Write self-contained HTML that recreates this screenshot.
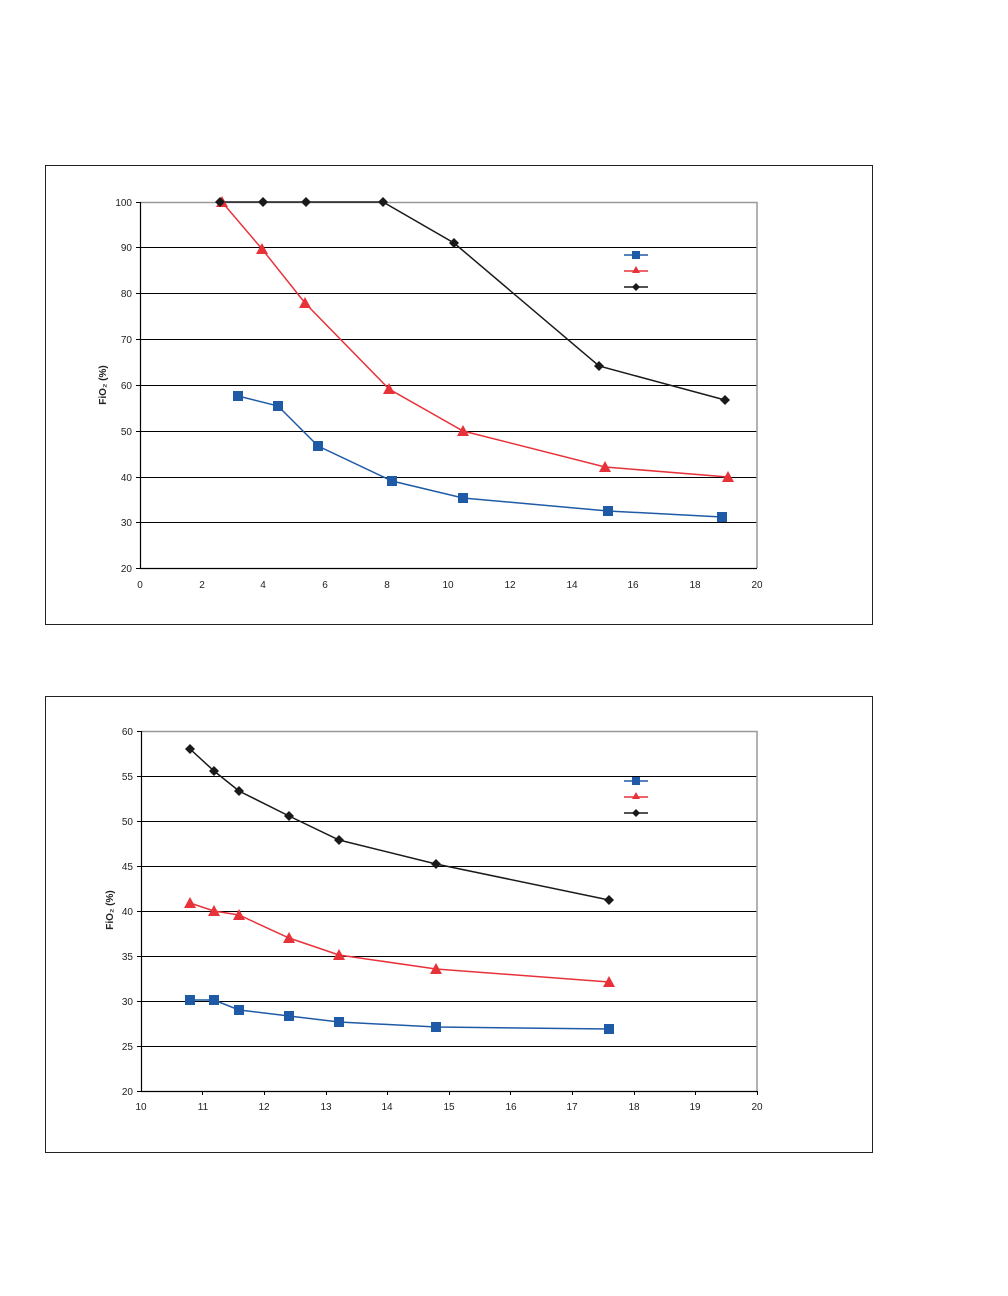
<!DOCTYPE html>
<html><head><meta charset="utf-8"><style>body{margin:0;background:#fff}svg{display:block}text{font-family:"Liberation Sans",sans-serif;font-size:10px;fill:#222}</style></head><body>
<svg width="1008" height="1296" xmlns="http://www.w3.org/2000/svg">
<defs>
<g id="sq"><rect x="-5" y="-5" width="10" height="10" fill="#1f5aa6"/></g>
<g id="tr"><polygon points="0,-6 6,5 -6,5" fill="#e8323a"/></g>
<g id="di"><polygon points="0,-5 5,0 0,5 -5,0" fill="#1a1a1a"/></g>
</defs>
<!-- Chart 1 -->
<rect x="45.5" y="165.5" width="827" height="459" fill="none" stroke="#222" stroke-width="1"/>
<g stroke="#000" stroke-width="1">
<line x1="140" y1="247.5" x2="757" y2="247.5"/><line x1="140" y1="293.5" x2="757" y2="293.5"/><line x1="140" y1="339.5" x2="757" y2="339.5"/><line x1="140" y1="385.5" x2="757" y2="385.5"/><line x1="140" y1="431.5" x2="757" y2="431.5"/><line x1="140" y1="477.5" x2="757" y2="477.5"/><line x1="140" y1="522.5" x2="757" y2="522.5"/>
</g>
<polyline points="140,202.5 757,202.5 757,568" fill="none" stroke="#999" stroke-width="1.5"/>
<polyline points="140.5,202 140.5,568.5 757,568.5" fill="none" stroke="#000" stroke-width="1.2"/>
<g stroke="#000"><line x1="136" y1="202.5" x2="140" y2="202.5"/><line x1="136" y1="247.5" x2="140" y2="247.5"/><line x1="136" y1="293.5" x2="140" y2="293.5"/><line x1="136" y1="339.5" x2="140" y2="339.5"/><line x1="136" y1="385.5" x2="140" y2="385.5"/><line x1="136" y1="431.5" x2="140" y2="431.5"/><line x1="136" y1="477.5" x2="140" y2="477.5"/><line x1="136" y1="522.5" x2="140" y2="522.5"/><line x1="136" y1="568.5" x2="140" y2="568.5"/></g>
<g text-anchor="end"><text x="132" y="206">100</text><text x="132" y="251">90</text><text x="132" y="297">80</text><text x="132" y="343">70</text><text x="132" y="389">60</text><text x="132" y="435">50</text><text x="132" y="481">40</text><text x="132" y="526">30</text><text x="132" y="572">20</text></g>
<g text-anchor="middle"><text x="140" y="588">0</text><text x="202" y="588">2</text><text x="263" y="588">4</text><text x="325" y="588">6</text><text x="387" y="588">8</text><text x="448" y="588">10</text><text x="510" y="588">12</text><text x="572" y="588">14</text><text x="633" y="588">16</text><text x="695" y="588">18</text><text x="757" y="588">20</text></g>
<text transform="translate(106,385) rotate(-90)" text-anchor="middle" style="font-weight:bold">FiO₂ (%)</text>
<polyline points="238,396 278,406 318,446 392,481 463,498 608,511 722,517" fill="none" stroke="#1f5aa6" stroke-width="1.5"/>
<polyline points="222,202 262,249 305,303 389,389 463,431 605,467 728,477" fill="none" stroke="#e8323a" stroke-width="1.5"/>
<polyline points="220,202 263,202 306,202 383,202 454,243 599,366 725,400" fill="none" stroke="#1a1a1a" stroke-width="1.5"/>
<use href="#sq" x="238" y="396"/><use href="#sq" x="278" y="406"/><use href="#sq" x="318" y="446"/><use href="#sq" x="392" y="481"/><use href="#sq" x="463" y="498"/><use href="#sq" x="608" y="511"/><use href="#sq" x="722" y="517"/>
<use href="#tr" x="222" y="202"/><use href="#tr" x="262" y="249"/><use href="#tr" x="305" y="303"/><use href="#tr" x="389" y="389"/><use href="#tr" x="463" y="431"/><use href="#tr" x="605" y="467"/><use href="#tr" x="728" y="477"/>
<use href="#di" x="220" y="202"/><use href="#di" x="263" y="202"/><use href="#di" x="306" y="202"/><use href="#di" x="383" y="202"/><use href="#di" x="454" y="243"/><use href="#di" x="599" y="366"/><use href="#di" x="725" y="400"/>
<line x1="624" y1="255" x2="648" y2="255" stroke="#1f5aa6" stroke-width="1.5"/><rect x="632" y="251" width="8" height="8" fill="#1f5aa6"/>
<line x1="624" y1="271" x2="648" y2="271" stroke="#e8323a" stroke-width="1.5"/><polygon points="636,266 640,273 632,273" fill="#e8323a"/>
<line x1="624" y1="287" x2="648" y2="287" stroke="#1a1a1a" stroke-width="1.5"/><polygon points="636,283 640,287 636,291 632,287" fill="#1a1a1a"/>
<!-- Chart 2 -->
<rect x="45.5" y="696.5" width="827" height="456" fill="none" stroke="#222" stroke-width="1"/>
<g stroke="#000" stroke-width="1">
<line x1="141" y1="776.5" x2="757" y2="776.5"/><line x1="141" y1="821.5" x2="757" y2="821.5"/><line x1="141" y1="866.5" x2="757" y2="866.5"/><line x1="141" y1="911.5" x2="757" y2="911.5"/><line x1="141" y1="956.5" x2="757" y2="956.5"/><line x1="141" y1="1001.5" x2="757" y2="1001.5"/><line x1="141" y1="1046.5" x2="757" y2="1046.5"/>
</g>
<polyline points="141,731.5 757,731.5 757,1091" fill="none" stroke="#999" stroke-width="1.5"/>
<polyline points="141.5,731 141.5,1091.5 757,1091.5" fill="none" stroke="#000" stroke-width="1.2"/>
<g stroke="#000"><line x1="137" y1="731.5" x2="141" y2="731.5"/><line x1="137" y1="776.5" x2="141" y2="776.5"/><line x1="137" y1="821.5" x2="141" y2="821.5"/><line x1="137" y1="866.5" x2="141" y2="866.5"/><line x1="137" y1="911.5" x2="141" y2="911.5"/><line x1="137" y1="956.5" x2="141" y2="956.5"/><line x1="137" y1="1001.5" x2="141" y2="1001.5"/><line x1="137" y1="1046.5" x2="141" y2="1046.5"/><line x1="137" y1="1091.5" x2="141" y2="1091.5"/></g>
<g stroke="#000"><line x1="202.5" y1="1091" x2="202.5" y2="1095"/><line x1="264.5" y1="1091" x2="264.5" y2="1095"/><line x1="326.5" y1="1091" x2="326.5" y2="1095"/><line x1="387.5" y1="1091" x2="387.5" y2="1095"/><line x1="449.5" y1="1091" x2="449.5" y2="1095"/><line x1="510.5" y1="1091" x2="510.5" y2="1095"/><line x1="572.5" y1="1091" x2="572.5" y2="1095"/><line x1="634.5" y1="1091" x2="634.5" y2="1095"/><line x1="695.5" y1="1091" x2="695.5" y2="1095"/><line x1="757.5" y1="1091" x2="757.5" y2="1095"/></g>
<g text-anchor="end"><text x="133" y="735">60</text><text x="133" y="780">55</text><text x="133" y="825">50</text><text x="133" y="870">45</text><text x="133" y="915">40</text><text x="133" y="960">35</text><text x="133" y="1005">30</text><text x="133" y="1050">25</text><text x="133" y="1095">20</text></g>
<g text-anchor="middle"><text x="141" y="1110">10</text><text x="203" y="1110">11</text><text x="264" y="1110">12</text><text x="326" y="1110">13</text><text x="387" y="1110">14</text><text x="449" y="1110">15</text><text x="511" y="1110">16</text><text x="572" y="1110">17</text><text x="634" y="1110">18</text><text x="695" y="1110">19</text><text x="757" y="1110">20</text></g>
<text transform="translate(113,910) rotate(-90)" text-anchor="middle" style="font-weight:bold">FiO₂ (%)</text>
<polyline points="190,1000 214,1000 239,1010 289,1016 339,1022 436,1027 609,1029" fill="none" stroke="#1f5aa6" stroke-width="1.5"/>
<polyline points="190,903 214,911 239,915 289,938 339,955 436,969 609,982" fill="none" stroke="#e8323a" stroke-width="1.5"/>
<polyline points="190,749 214,771 239,791 289,816 339,840 436,864 609,900" fill="none" stroke="#1a1a1a" stroke-width="1.5"/>
<use href="#sq" x="190" y="1000"/><use href="#sq" x="214" y="1000"/><use href="#sq" x="239" y="1010"/><use href="#sq" x="289" y="1016"/><use href="#sq" x="339" y="1022"/><use href="#sq" x="436" y="1027"/><use href="#sq" x="609" y="1029"/>
<use href="#tr" x="190" y="903"/><use href="#tr" x="214" y="911"/><use href="#tr" x="239" y="915"/><use href="#tr" x="289" y="938"/><use href="#tr" x="339" y="955"/><use href="#tr" x="436" y="969"/><use href="#tr" x="609" y="982"/>
<use href="#di" x="190" y="749"/><use href="#di" x="214" y="771"/><use href="#di" x="239" y="791"/><use href="#di" x="289" y="816"/><use href="#di" x="339" y="840"/><use href="#di" x="436" y="864"/><use href="#di" x="609" y="900"/>
<line x1="624" y1="781" x2="648" y2="781" stroke="#1f5aa6" stroke-width="1.5"/><rect x="632" y="777" width="8" height="8" fill="#1f5aa6"/>
<line x1="624" y1="797" x2="648" y2="797" stroke="#e8323a" stroke-width="1.5"/><polygon points="636,792 640,799 632,799" fill="#e8323a"/>
<line x1="624" y1="813" x2="648" y2="813" stroke="#1a1a1a" stroke-width="1.5"/><polygon points="636,809 640,813 636,817 632,813" fill="#1a1a1a"/>
</svg>
</body></html>
